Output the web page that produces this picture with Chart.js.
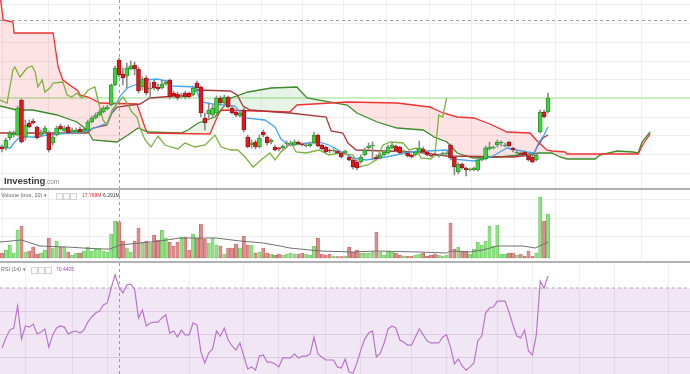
<!DOCTYPE html>
<html>
<head>
<meta charset="utf-8">
<script src="https://cdn.jsdelivr.net/npm/chart.js@4.4.1/dist/chart.umd.min.js"></script>
<style>
  body { margin: 0; background: #fff; width: 690px; height: 374px; overflow: hidden; position: relative;
         font-family: "Liberation Sans", Arial, sans-serif; }
  canvas { position: absolute; left: 0; }
  #main { top: 0; }
  #vol { top: 190px; }
  #rsi { top: 263px; }
  .sep { position: absolute; left: 0; width: 690px; height: 2px; background: #b2b2b2; }
  .lbl { position: absolute; font-size: 5.4px; line-height: 7px; color: #666; white-space: nowrap; }
  .val { font-size: 5px; }
  .box { position: absolute; width: 5px; height: 5px; border: 1px solid #d4d4d4; background: #fafafa; }
  .logo { position: absolute; left: 4px; top: 175px; font-weight: bold; font-size: 9.6px; color: #3b3b3b; letter-spacing: -0.1px; }
  .logo span { font-weight: normal; font-size: 6.6px; color: #8a8a8a; }
</style>
</head>
<body>
<canvas id="main" width="690" height="188"></canvas>
<div class="sep" style="top:188px"></div>
<canvas id="vol" width="690" height="71"></canvas>
<div class="sep" style="top:261px"></div>
<canvas id="rsi" width="690" height="111"></canvas>

<div class="logo">Investing<span>.com</span></div>

<div class="lbl" style="left:1px;top:192px">Volume (true, 20) ▾</div>
<div class="box" style="left:56px;top:193px"></div>
<div class="box" style="left:63px;top:193px"></div>
<div class="box" style="left:70px;top:193px"></div>
<div class="lbl val" style="left:82px;top:192px;color:#d4343c">17.768M</div>
<div class="lbl val" style="left:103px;top:192px;color:#333">6.291M</div>

<div class="lbl" style="left:1px;top:266px">RSI (14) ▾</div>
<div class="box" style="left:31px;top:267px"></div>
<div class="box" style="left:38px;top:267px"></div>
<div class="box" style="left:45px;top:267px"></div>
<div class="lbl val" style="left:56px;top:266px;color:#a247b4">70.4405</div>

<script>
// candle slots (one per session), 26 more slots on the right for the shifted cloud
const categories = Array.from({ length: 141 }, (_, i) => i);
const X_MIN = -0.513, X_MAX = 176.41;

const opens = [53,52,62,65,65,100,63,77,79,73, 65,68,67,57,65,74,69,73,68,68,
  71,68,70,78,82,85,88,91,95,115, 140,126,124,131,135,131,113,122,111,118,
  113,112,116,120,107,106,103,107,107,105, 117,113,82,86,85,87,102,97,103,92,
  88,84,90,63,55,58,53,68,63,58, 53,52,52,56,56,55,58,56,54,54,
  57,65,55,53,50,49,49,47,47,43, 40,38,38,45,52,54,43,42,45,47,
  52,54,53,48,47,45,45,48,51,48, 45,46,44,46,46,55,43,28,36,32,
  30,30,30,40,41,51,52,55,57,54, 58,52,47,47,48,44,43,40,68,88, 88];
const closes = [51,60,67,67,92,58,75,73,77,62, 68,72,50,63,72,71,72,67,70,70,
  68,71,78,82,85,88,92,93,115,132, 125,122,132,134,131,109,121,107,112,112,
  111,116,118,103,104,102,104,103,103,112, 112,87,77,90,92,102,97,103,93,87,
  85,87,70,53,57,53,62,65,57,60, 50,51,54,57,57,58,56,55,55,56,
  65,54,51,48,49,50,47,43,49,40, 33,32,43,50,54,55,41,45,48,53,
  55,49,47,49,44,43,48,52,48,45, 44,45,45,47,47,42,33,36,32,30,
  31,32,40,42,52,53,53,58,58,55, 54,50,48,45,45,40,38,45,88,83, 102];
const highs = [55,62,69,69,94,101,80,80,81,74, 70,74,69,65,74,76,74,75,72,72,
  73,73,80,84,87,90,94,95,116,134, 142,132,137,139,138,133,123,124,118,120,
  116,120,120,121,109,108,107,109,108,114, 119,114,87,97,95,104,104,105,104,94,
  90,89,92,65,60,60,65,70,64,61, 55,53,55,59,59,60,59,57,57,58,
  68,66,56,54,51,51,50,48,50,44, 42,40,45,52,57,58,45,47,50,55,
  57,55,54,50,48,46,49,59,53,49, 46,47,46,48,48,56,44,37,37,33,
  32,33,42,43,54,58,54,60,59,57, 59,53,49,48,49,45,44,46,90,90, 107];
const lows = [48,50,60,63,64,57,60,72,76,61, 63,67,48,55,64,70,67,66,66,67,
  66,66,69,77,81,84,87,90,94,114, 123,115,112,130,125,107,110,105,102,110,
  109,111,115,101,102,100,102,101,102,104, 110,83,70,82,83,86,95,96,92,86,
  83,83,68,52,52,51,52,63,55,56, 49,49,51,53,54,54,55,54,53,53,
  56,53,50,47,47,48,46,42,46,39, 31,30,37,44,51,40,40,41,44,46,
  51,48,46,47,43,42,44,47,47,44, 43,44,43,45,45,40,25,26,31,24,
  29,29,29,39,40,50,51,53,54,53, 53,48,46,44,44,39,37,39,67,82, 87];

// ichimoku lines: [slot, price]
const senkouA = [[-0.5,94],[3.8,90],[7.9,90],[14.1,85],[19.2,78],[21.8,70],[23.3,60],[29.5,58],[32.3,65],
  [34.9,72],[37.4,68],[45.9,67],[47.7,70],[50.3,77],[54.6,83],[58.7,102],[63.1,108],[69,112],[75.6,113],
  [78.2,102],[88.5,95],[91,87],[96.2,78],[101.3,72],[108,70],[110.8,63],[114.1,58],[116.7,47],[120.8,42],
  [127.7,43],[137.9,47],[141,47],[143.1,43],[144.9,41],[152.1,41],[153.3,45],[157.7,49],[161.8,48],
  [163.1,47],[164.1,58],[166.2,68]];
const senkouB = [[-0.5,205],[0.3,180],[2.8,178],[3.1,167],[13.1,167],[14.4,133],[15.6,120],[19.5,109],
  [20,105],[22.1,103],[25.1,97],[34.6,96],[35.4,87],[36.7,72],[37.4,67],[53.3,66],[55.4,85],[56.2,90],
  [73.8,88],[75.6,95],[88.5,98],[101.3,97],[109.7,93],[113.1,87],[116.7,83],[121,82],[125.1,76],
  [129.5,68],[135.4,67],[137.2,59],[139.7,50],[141,49],[144.4,48],[144.9,46],[163.1,46],[164.4,56],[166.2,66]];
const kijun = [[-0.5,67],[21.8,67],[23.3,72],[26.9,75],[28.2,87],[29.5,93],[35.4,96],[37.9,102],[48.2,105],
  [50,110],[58.5,109],[60.3,105],[61.8,94],[63.6,90],[73.8,87],[83.1,83],[84.4,69],[87.4,67],[88.7,57],
  [90.8,50],[106.2,48],[114.1,44],[131.3,43],[136.2,45],[137.2,53],[138.7,62],[140,65]];
const tenkan = [[-0.5,53],[2.1,52],[3.3,58],[4.6,63],[9,63],[11.5,65],[20.8,68],[24.4,73],[26.9,77],
  [28.5,90],[30.3,104],[32.1,112],[35.4,117],[36.7,120],[39.7,121],[42.3,119],[43.6,114],[49.5,113],
  [51,98],[54.1,96],[59.7,94],[62.3,82],[67.4,80],[70,73],[71.5,61],[73.6,55],[81.3,58],[83.8,55],
  [90,42],[93.3,40],[98.5,43],[104.6,48],[114.1,50],[115.1,41],[121,39],[125.4,43],[129.5,52],
  [134.6,48],[136.4,47],[137.7,58],[139,65],[140,73]];
const chikou = [[-0.5,100],[1.3,97],[2.8,130],[3.3,133],[4.6,123],[6.4,132],[7.7,134],[8.5,128],[9.2,113],
  [10.3,120],[11,108],[12.3,112],[13.1,117],[15.6,118],[16.7,105],[17.9,103],[19.2,107],[20.5,102],
  [22.1,110],[23.8,113],[24.6,100],[25.9,80],[26.9,75],[28.2,90],[29.7,97],[31,103],[32.1,97],[33.3,88],
  [34.6,83],[35.4,72],[36.7,60],[38.2,53],[40,64],[41.8,55],[43.3,53],[45.1,51],[46.9,57],[49.5,53],
  [52.1,55],[54.6,65],[56.2,53],[58.7,50],[60.5,50],[62.3,43],[64.4,33],[66.4,40],[68.7,47],[70,40],
  [71.5,48],[72.8,52],[74.1,57],[75.4,48],[77.9,47],[81.3,50],[83.8,45],[86.4,47],[90,45],[91.5,33],
  [93.8,35],[95.9,40],[97.7,55],[99.7,58],[102.8,57],[104.4,50],[106.2,52],[107.4,42],[110,41],[111,45],
  [112,85],[113,83],[114,102]];

// volume in millions
const volume = [2.45,3.92,6.37,2.45,13.72,15.68,2.94,3.43,5.39,1.96,
  2.45,3.92,9.80,4.90,8.33,5.39,5.39,2.94,1.47,2.45, 2.45,3.43,5.39,3.43,4.90,4.90,3.43,2.94,11.76,18.13,
  17.77,8.33,4.90,2.94,8.33,14.70,7.84,8.33,7.35,11.27, 8.82,13.72,9.80,7.84,5.88,7.84,10.29,10.29,3.92,11.76,
  9.80,16.66,9.31,7.35,9.80,6.37,5.88,1.96,4.90,4.90, 6.86,4.90,10.78,6.37,6.37,2.45,2.94,4.90,2.45,1.96,
  1.47,1.96,1.47,1.96,2.45,1.96,1.96,2.45,1.96,1.47, 5.88,9.80,1.96,1.47,1.96,0.98,0.74,0.74,0.98,5.39,
  2.94,3.92,2.45,2.45,2.45,2.94,12.74,2.94,1.47,3.43, 2.94,2.45,1.47,0.98,0.98,0.98,1.47,1.96,2.45,0.98,
  1.47,1.96,1.47,0.98,1.47,17.15,4.41,5.39,3.43,3.43, 1.96,4.41,7.84,6.37,8.33,15.68,5.88,16.17,1.96,1.96,
  2.45,2.45,1.47,1.96,0.98,3.43,0.98,2.45,29.89,18.13, 21.56];
const volumeMa = [[-0.5,7.84],[5,8.82],[9.7,5.88],[16.6,5.39],[25,4.41],[27.7,4.41],[30.3,6.37],[35.4,7.35],
  [40.5,8.33],[45.6,9.80],[50.8,9.80],[55,9.80],[61,8.33],[67,7.35],[71.3,5.88],[73.8,4.90],[81.5,3.43],
  [90,2.94],[96,3.43],[107,2.94],[114,2.45],[115,3.43],[120,2.94],[123.3,3.92],[127,5.88],[133.6,5.88],
  [136.7,4.90],[140,7.84]];

const rsi = [43.9,48.3,51.7,52.6,62.2,47.8,53.5,53.0,54.3,50.0, 50.9,52.2,44.3,49.6,52.6,53.5,53.0,50.0,50.9,51.3,
  50.4,51.7,55.2,57.4,59.1,60.0,62.6,63.5,70.0,75.7, 70.4,67.8,71.3,71.7,69.6,57.0,60.4,53.5,54.8,55.2,
  55.2,57.0,58.3,50.4,51.3,48.7,51.7,49.6,49.6,54.8, 53.9,42.2,37.4,41.7,43.5,51.3,49.1,52.6,47.4,44.8,
  43.0,46.1,40.4,34.8,35.7,34.3,40.4,40.9,37.8,37.8, 37.0,35.7,39.6,39.6,39.6,41.3,39.6,40.4,40.4,41.3,
  48.7,41.3,40.0,38.7,38.7,38.7,35.7,35.2,39.1,33.5, 33.0,37.4,43.0,47.8,50.4,51.3,40.0,41.7,46.1,52.2,
  53.5,52.6,47.4,46.5,45.2,45.2,48.7,52.2,49.6,47.0, 46.1,46.1,46.1,48.7,49.6,44.3,37.0,39.1,36.1,34.3,
  35.7,37.4,47.0,49.1,59.1,61.3,61.7,64.3,64.3,64.3, 59.6,53.9,49.1,48.3,51.7,42.6,40.9,49.6,73.0,70.0,75.2];
const rsiLevels = [70, 30];

// grid positions
const gridIdx = [6, 18, 27, 48, 62, 71, 83, 92, 105, 114, 127, 136, 148, 157, 171];
const priceGrid = [27, 46, 65, 83, 102, 121, 139, 158, 176, 195];
const volGrid = [10.3, 19.6, 28.9];
const rsiGrid = [40, 50, 60];
const crosshairIndex = 30;
const crosshairPrice = 180;

Chart.defaults.font.family = '"Liberation Sans", Arial, sans-serif';

const pts = arr => arr.map(([x, y]) => ({ x, y }));
const isUp = i => closes[i] >= opens[i];

const crosshair = {
  id: 'crosshair',
  beforeDatasetsDraw(chart, args, opts) {
    const { ctx, chartArea: a, scales } = chart;
    ctx.save();
    ctx.strokeStyle = '#a0a0a0';
    ctx.lineWidth = 1;
    ctx.setLineDash([3, 3]);
    const x = Math.round(scales.x.getPixelForValue(crosshairIndex)) + 0.5;
    ctx.beginPath(); ctx.moveTo(x, a.top); ctx.lineTo(x, a.bottom); ctx.stroke();
    if (opts.price != null) {
      const y = Math.round(scales.y.getPixelForValue(opts.price)) + 0.5;
      ctx.beginPath(); ctx.moveTo(a.left, y); ctx.lineTo(a.right, y); ctx.stroke();
    }
    ctx.restore();
  }
};

function xAxis() {
  return {
    type: 'linear', min: X_MIN, max: X_MAX, offset: false,
    afterBuildTicks: s => { s.ticks = gridIdx.map(v => ({ value: v })); },
    ticks: { display: false }, grid: { color: '#efefef', drawTicks: false }, border: { display: false }
  };
}
function yAxis(min, max, ticks, color) {
  return {
    min, max,
    afterBuildTicks: s => { s.ticks = ticks.map(v => ({ value: v })); },
    ticks: { display: false }, grid: { color: color || '#efefef', drawTicks: false }, border: { display: false }
  };
}
function baseOptions(scales, price) {
  return {
    responsive: false, animation: false, devicePixelRatio: 1, events: [],
    layout: { padding: 0 },
    plugins: { legend: { display: false }, tooltip: { enabled: false }, crosshair: { price } },
    scales
  };
}
const line = (data, color, order, extra) => Object.assign({
  type: 'line', data: pts(data), borderColor: color, borderWidth: 1.3,
  pointRadius: 0, tension: 0, fill: false, order
}, extra || {});

// price panel
new Chart(document.getElementById('main'), {
  type: 'bar',
  data: {
    datasets: [
      line(senkouA, '#3d8b2a', 10, { fill: { target: 1, above: 'rgba(60,160,60,0.13)', below: 'rgba(240,60,60,0.14)' } }),
      line(senkouB, '#f03232', 9),
      line(kijun, '#a8383a', 8),
      line(tenkan, '#45a6f2', 7),
      line(chikou, '#7db23e', 6),
      line([[X_MIN, closes[closes.length - 1]], [X_MAX, closes[closes.length - 1]]], '#c9efc0', 11, { borderWidth: 2 }),
      {
        type: 'bar', data: categories.map(i => ({ x: i, y: [lows[i], highs[i]] })),
        backgroundColor: '#8c8c8c', barThickness: 1, grouped: false, order: 2
      },
      {
        type: 'bar', data: categories.map(i => ({ x: i, y: [opens[i], closes[i]] })),
        backgroundColor: c => isUp(c.dataIndex) ? '#3fd03f' : '#e4161d',
        borderColor: c => isUp(c.dataIndex) ? '#238a23' : '#8e1313',
        borderWidth: 0.8, borderSkipped: false, barThickness: 4, minBarLength: 1, grouped: false, order: 1
      }
    ]
  },
  options: baseOptions({ x: xAxis(), y: yAxis(12, 200, priceGrid) }, crosshairPrice),
  plugins: [crosshair]
});

// volume panel
new Chart(document.getElementById('vol'), {
  type: 'bar',
  data: {
    datasets: [
      line(volumeMa, '#707070', 0, { borderWidth: 1 }),
      {
        type: 'bar', data: categories.map(i => ({ x: i, y: volume[i] })),
        backgroundColor: c => isUp(c.dataIndex) ? '#8fe283' : '#dc8d8d',
        borderColor: c => isUp(c.dataIndex) ? '#5cbd4f' : '#bb5656',
        borderWidth: 0.6, borderSkipped: false, barThickness: 3.2, grouped: false, order: 1
      }
    ]
  },
  options: baseOptions({ x: xAxis(), y: yAxis(-1.47, 33.32, volGrid) }, null),
  plugins: [crosshair]
});

// RSI panel
new Chart(document.getElementById('rsi'), {
  type: 'line',
  data: {
    datasets: [
      line([[X_MIN, rsiLevels[0]], [X_MAX, rsiLevels[0]]], '#b6a2ba', 2,
        { borderWidth: 1, borderDash: [3, 3], fill: { value: rsiLevels[1] }, backgroundColor: 'rgba(160,90,175,0.15)' }),
      line(categories.map(i => [i, rsi[i]]), '#b777c9', 1, { borderWidth: 1.2 })
    ]
  },
  options: baseOptions({ x: xAxis(), y: yAxis(32.61, 80.87, rsiGrid, '#ebe0ee') }, null),
  plugins: [crosshair]
});
</script>
</body>
</html>
